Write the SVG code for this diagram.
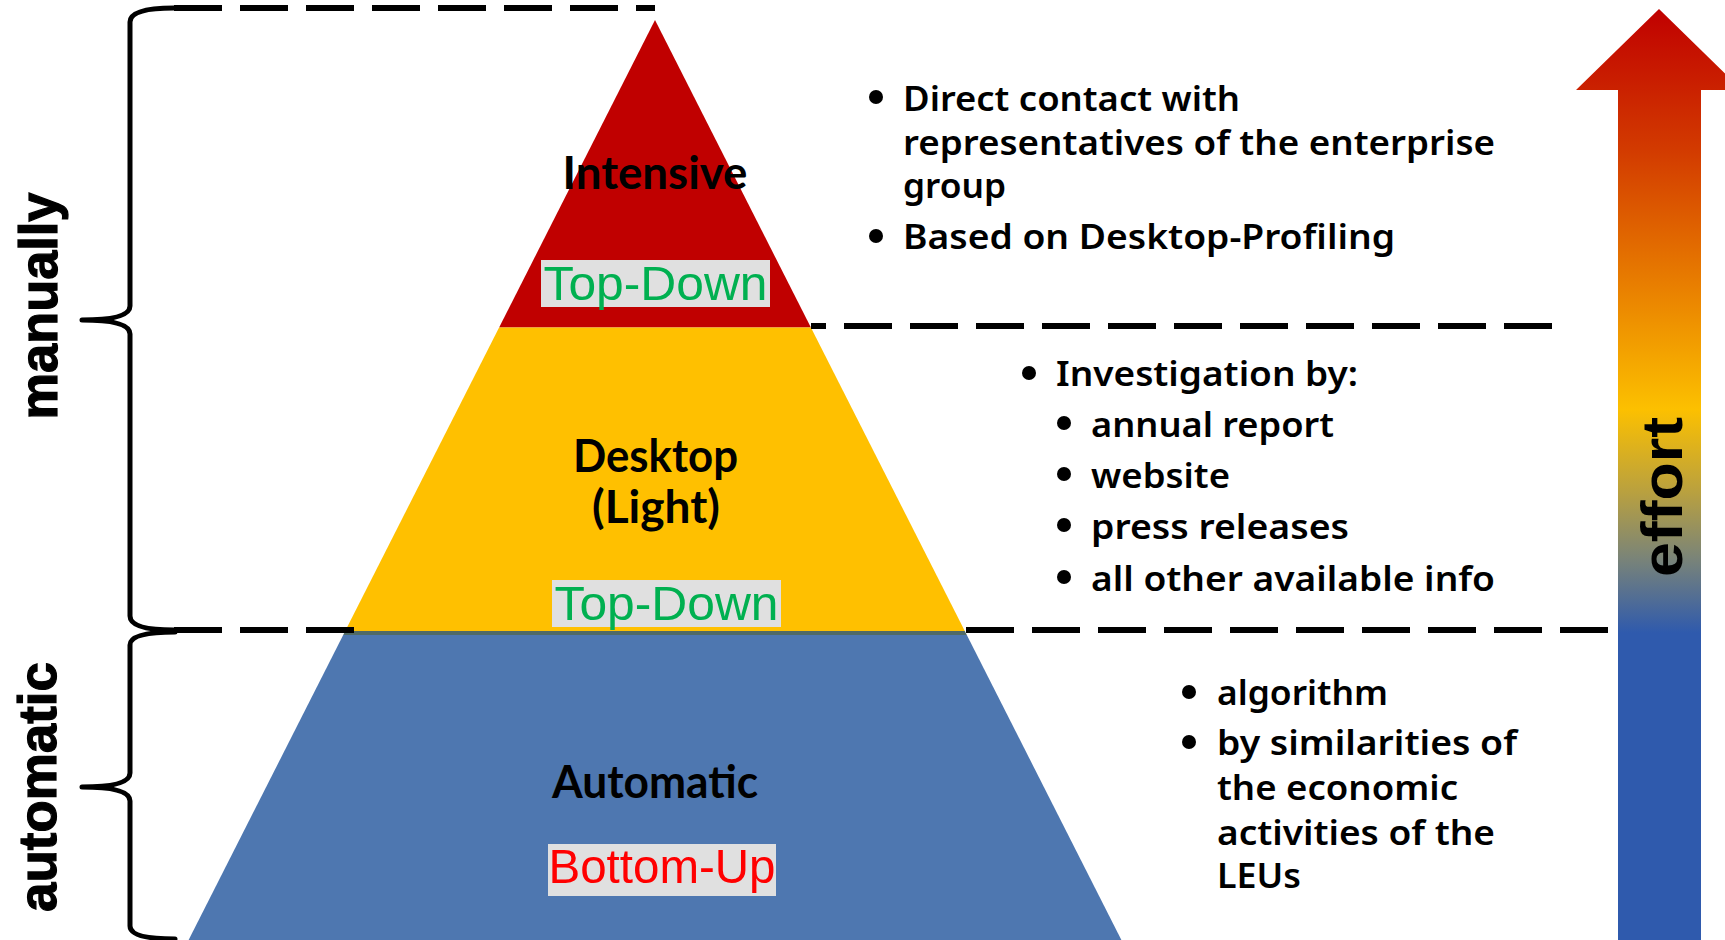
<svg xmlns="http://www.w3.org/2000/svg" width="1725" height="940" viewBox="0 0 1725 940">
<defs>
<linearGradient id="effortGrad" gradientUnits="userSpaceOnUse" x1="0" y1="9" x2="0" y2="940">
<stop offset="0" stop-color="#C00000"/>
<stop offset="0.15" stop-color="#D23A00"/>
<stop offset="0.3" stop-color="#E98000"/>
<stop offset="0.43" stop-color="#FCC000"/>
<stop offset="0.52" stop-color="#B8A040"/>
<stop offset="0.59" stop-color="#7A8478"/>
<stop offset="0.67" stop-color="#2F5AAD"/>
<stop offset="1" stop-color="#2F5AAD"/>
</linearGradient>
<style>
.dash{stroke:#000;stroke-width:6;stroke-dasharray:48 18;fill:none}
.brace{stroke:#000;stroke-width:5;fill:none;stroke-linecap:round;stroke-linejoin:round}
.side{font-family:"Liberation Sans",Arial,sans-serif;font-weight:bold;fill:#000}
.heavy{stroke:#000;stroke-width:1.2}
.lvl{font-family:Lato,"Noto Sans",sans-serif;font-weight:bold;font-size:46px;fill:#000;text-anchor:middle}
.tag{font-family:"Liberation Sans",Arial,sans-serif;font-size:49px;text-anchor:middle}
.tagbox{fill:#E0E0E0}
.txt{font-family:"Noto Sans",sans-serif;font-weight:600;font-size:35px;fill:#000}
.bul{fill:#000}
</style>
</defs>
<rect width="1725" height="940" fill="#FFFFFF"/>

<g id="level-intensive">
<polygon points="655,20 810.9,327.5 499.1,327.5" fill="#C00000"/>
<text class="lvl" x="655" y="189" textLength="185" lengthAdjust="spacingAndGlyphs">Intensive</text>
<rect class="tagbox" x="541" y="260" width="229" height="47"/>
<text class="tag" x="655.5" y="300" fill="#00B050" textLength="224" lengthAdjust="spacingAndGlyphs">Top-Down</text>
</g>

<g id="level-desktop">
<polygon points="499.1,327.5 810.9,327.5 964.8,631 345.2,631" fill="#FFC000"/>
<text class="lvl" x="655.5" y="472" textLength="165" lengthAdjust="spacingAndGlyphs">Desktop</text>
<text class="lvl" x="656" y="523" textLength="128" lengthAdjust="spacingAndGlyphs">(Light)</text>
<rect class="tagbox" x="552" y="580" width="229" height="47"/>
<text class="tag" x="666.5" y="620" fill="#00B050" textLength="224" lengthAdjust="spacingAndGlyphs">Top-Down</text>
</g>

<g id="level-automatic">
<polygon points="345.2,631 964.8,631 966.8,635 343.2,635" fill="#506A66"/>
<polygon points="343.2,635 966.8,635 1121.4,940 188.6,940" fill="#4E77B0"/>
<text class="lvl" x="655" y="798" textLength="206" lengthAdjust="spacingAndGlyphs">Automatic</text>
<rect class="tagbox" x="548" y="844" width="228" height="52"/>
<text class="tag" x="662" y="883" fill="#FF0000" textLength="227" lengthAdjust="spacingAndGlyphs">Bottom-Up</text>
</g>

<g id="connectors">
<line class="dash" x1="174" y1="8" x2="655" y2="8"/>
<line class="dash" x1="811" y1="326" x2="1552" y2="326" stroke-dashoffset="33"/>
<line class="dash" x1="174" y1="630" x2="354" y2="630"/>
<line class="dash" x1="966" y1="630" x2="1608" y2="630"/>
</g>

<g id="brace-manually">
<path class="brace" d="M174,8 Q130,8 130,22 L130,306 Q130,320 82,320 Q130,320 130,334 L130,616 Q130,630 174,630"/>
<text class="side heavy" font-size="54" transform="translate(57,306) rotate(-90)" text-anchor="middle" textLength="227" lengthAdjust="spacingAndGlyphs">manually</text>
</g>

<g id="brace-automatic">
<path class="brace" d="M175,632 Q130,632 130,645 L130,773 Q130,787 82,787 Q130,787 130,801 L130,926 Q130,939 175,939"/>
<text class="side heavy" font-size="54" transform="translate(56,787) rotate(-90)" text-anchor="middle" textLength="250" lengthAdjust="spacingAndGlyphs">automatic</text>
</g>

<g id="notes-intensive">
<circle class="bul" cx="876" cy="97" r="7"/>
<text class="txt" x="903" y="111" textLength="337" lengthAdjust="spacingAndGlyphs">Direct contact with</text>
<text class="txt" x="903" y="155" textLength="592" lengthAdjust="spacingAndGlyphs">representatives of the enterprise</text>
<text class="txt" x="903" y="198" textLength="103" lengthAdjust="spacingAndGlyphs">group</text>
<circle class="bul" cx="876" cy="236" r="7"/>
<text class="txt" x="903" y="249" textLength="492" lengthAdjust="spacingAndGlyphs">Based on Desktop-Profiling</text>
</g>

<g id="notes-desktop">
<circle class="bul" cx="1029" cy="373" r="7"/>
<text class="txt" x="1056" y="386" textLength="302" lengthAdjust="spacingAndGlyphs">Investigation by:</text>
<circle class="bul" cx="1064" cy="423" r="7"/>
<text class="txt" x="1091" y="437" textLength="243" lengthAdjust="spacingAndGlyphs">annual report</text>
<circle class="bul" cx="1064" cy="474" r="7"/>
<text class="txt" x="1091" y="488" textLength="139" lengthAdjust="spacingAndGlyphs">website</text>
<circle class="bul" cx="1064" cy="525" r="7"/>
<text class="txt" x="1091" y="539" textLength="258" lengthAdjust="spacingAndGlyphs">press releases</text>
<circle class="bul" cx="1064" cy="577" r="7"/>
<text class="txt" x="1091" y="591" textLength="404" lengthAdjust="spacingAndGlyphs">all other available info</text>
</g>

<g id="notes-automatic">
<circle class="bul" cx="1189" cy="692" r="7"/>
<text class="txt" x="1217" y="705" textLength="171" lengthAdjust="spacingAndGlyphs">algorithm</text>
<circle class="bul" cx="1189" cy="742" r="7"/>
<text class="txt" x="1217" y="755" textLength="300" lengthAdjust="spacingAndGlyphs">by similarities of</text>
<text class="txt" x="1217" y="800" textLength="241" lengthAdjust="spacingAndGlyphs">the economic</text>
<text class="txt" x="1217" y="845" textLength="278" lengthAdjust="spacingAndGlyphs">activities of the</text>
<text class="txt" x="1217" y="888" textLength="84" lengthAdjust="spacingAndGlyphs">LEUs</text>
</g>

<g id="arrow-effort">
<polygon points="1659,9 1742,90 1701,90 1701,940 1618,940 1618,90 1576,90" fill="url(#effortGrad)"/>
<text class="side" font-size="58" transform="translate(1682,497) rotate(-90)" text-anchor="middle" textLength="160" lengthAdjust="spacingAndGlyphs">effort</text>
</g>
</svg>
